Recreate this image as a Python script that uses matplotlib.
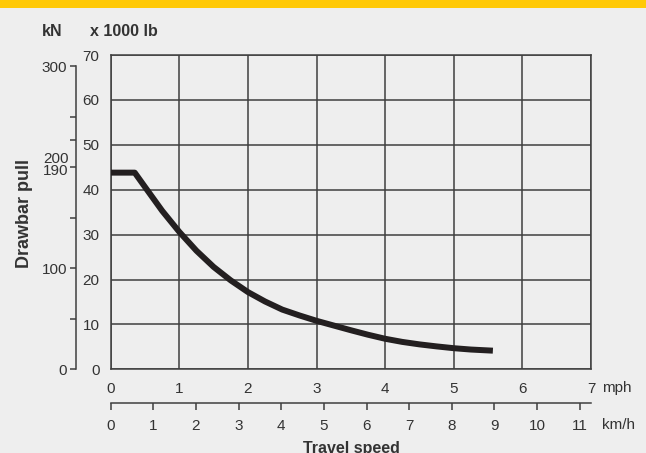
import numpy as np
import matplotlib
matplotlib.use("Agg")
import matplotlib.pyplot as plt
from matplotlib.patches import Rectangle

plt.rcParams['font.family'] = ['Liberation Sans', 'DejaVu Sans']

# drawbar pull curve (mph, x1000 lb)
speed_mph = [0.0, 0.35, 0.5, 0.75, 1.0, 1.25, 1.5, 1.75, 2.0, 2.25, 2.5, 2.75,
             3.0, 3.25, 3.5, 3.75, 4.0, 4.25, 4.5, 4.75, 5.0, 5.25, 5.57]
pull_klb = [43.8, 43.8, 40.6, 35.3, 30.6, 26.4, 22.8, 19.8, 17.2, 15.1, 13.3, 12.0,
            10.8, 9.75, 8.7, 7.7, 6.8, 6.1, 5.55, 5.1, 4.7, 4.4, 4.15]

mph_ticks = list(range(0, 8))
kmh_ticks = list(range(0, 12))
klb_ticks = list(range(0, 71, 10))
kn_ticks = [0, 50, 100, 150, 200, 227, 250, 300]
kn_labels = ["0", "", "100", "", "", "", "", "300"]

KN_PER_KLB = 4.44822
KMH_PER_MPH = 1.609344

W, H = 646, 453
bg = "#EEEEEE"
grid_c = "#3f3f3f"
ink = "#231F20"
txt = "#333333"

fig = plt.figure(figsize=(W / 100, H / 100), dpi=100, facecolor=bg)

x0, x1 = 110.7, 591.0
y_top, y_bot = 55.0, 369.3
L = x0 / W
B = 1 - y_bot / H
AW = (x1 - x0) / W
AH = (y_bot - y_top) / H

# yellow header strip
fig.patches.append(Rectangle((0, 1 - 8 / H), 1, 8 / H, transform=fig.transFigure,
                             facecolor="#FFC907", edgecolor="none"))

# main grid (mph vs 1000 lb)
ax = fig.add_axes([L, B, AW, AH])
ax.set_facecolor("none")
ax.set_xlim(0, 7)
ax.set_ylim(0, 70)
ax.set_xticks(mph_ticks)
ax.set_yticks(klb_ticks)
ax.grid(True, color=grid_c, linewidth=1.1)
for s in ax.spines.values():
    s.set_color(grid_c)
    s.set_linewidth(1.1)
ax.tick_params(length=0, labelsize=11, labelcolor=txt)
ax.tick_params(axis="x", pad=9)
ax.tick_params(axis="y", pad=8)
ax.plot(speed_mph, pull_klb, color=ink, linewidth=4.3, solid_capstyle="butt",
        solid_joinstyle="round", zorder=5)

# kN scale on the far left
axk = fig.add_axes([76.3 / W, B, 0.0001, AH])
axk.set_facecolor("none")
axk.set_ylim(0, 70 * KN_PER_KLB)
axk.set_xticks([])
for k in ["top", "right", "bottom"]:
    axk.spines[k].set_visible(False)
axk.spines["left"].set_bounds(0, 300)
axk.spines["left"].set_color(grid_c)
axk.spines["left"].set_linewidth(1.1)
axk.set_yticks(kn_ticks)
axk.set_yticklabels(kn_labels)
axk.tick_params(axis="y", length=4.5, width=1.1, color=grid_c, pad=2,
                labelsize=11, labelcolor=txt)
axk.annotate("200", xy=(0, 208.5), xycoords=("axes fraction", "data"),
             xytext=(-5.5, 0), textcoords="offset points", ha="right", va="center",
             fontsize=11, color=txt)
axk.annotate("190", xy=(0, 196), xycoords=("axes fraction", "data"),
             xytext=(-5.5, 0), textcoords="offset points", ha="right", va="center",
             fontsize=11, color=txt)

# km/h scale below
yk = 403.3
axh = fig.add_axes([L, 1 - yk / H, AW, 0.0001])
axh.set_facecolor("none")
axh.set_xlim(0, 7 * KMH_PER_MPH)
axh.set_yticks([])
for k in ["top", "right", "left"]:
    axh.spines[k].set_visible(False)
axh.spines["bottom"].set_color(grid_c)
axh.spines["bottom"].set_linewidth(1.1)
axh.set_xticks(kmh_ticks)
axh.tick_params(axis="x", length=5, width=1.1, color=grid_c, pad=6.5,
                labelsize=11, labelcolor=txt)

# unit labels and titles
fig.text(602 / W, 1 - 388 / H, "mph", fontsize=11, color=txt, ha="left", va="center")
fig.text(602 / W, 1 - 425 / H, "km/h", fontsize=11, color=txt, ha="left", va="center")
fig.text(351 / W, 1 - 448 / H, "Travel speed", fontsize=11.5, fontweight="bold",
         color=txt, ha="center", va="center")
fig.text(24.5 / W, 1 - 214 / H, "Drawbar pull", fontsize=13, fontweight="bold",
         color=txt, ha="center", va="center", rotation=90)
fig.text(42 / W, 1 - 31 / H, "kN", fontsize=11.5, fontweight="bold", color=txt,
         ha="left", va="center")
fig.text(90 / W, 1 - 31 / H, "x 1000 lb", fontsize=11.5, fontweight="bold", color=txt,
         ha="left", va="center")

fig.savefig("out.png", dpi=100, facecolor=bg)
